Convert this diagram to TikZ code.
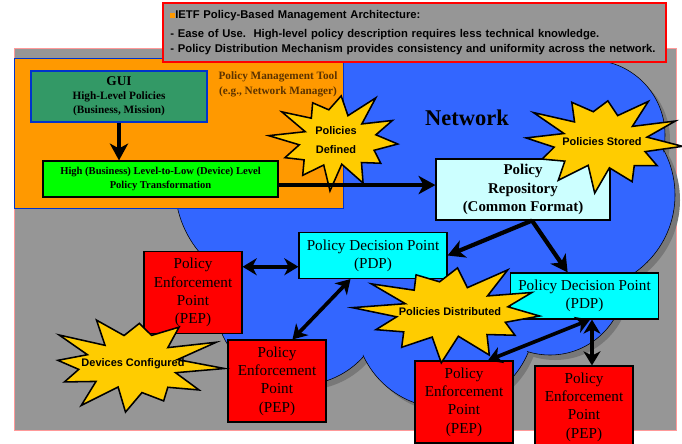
\documentclass[tikz,border=0pt]{standalone}
\usepackage{fontspec}
\setmainfont{Liberation Serif}
\setsansfont{Liberation Sans}
\usepackage{xcolor}
\usetikzlibrary{arrows.meta,calc}

\definecolor{bggray}{HTML}{969696}
\definecolor{shadowgray}{HTML}{787878}
\definecolor{netblue}{HTML}{3366FF}
\definecolor{toolorange}{HTML}{FF9900}
\definecolor{toolbrown}{HTML}{5C3300}
\definecolor{guigreen}{HTML}{339966}
\definecolor{burstyellow}{HTML}{FFCC00}
\definecolor{repocyan}{HTML}{CCFFFF}
\definecolor{pdpcyan}{HTML}{00FFFF}
\definecolor{edgeblue}{HTML}{0033CC}
\definecolor{pinkedge}{HTML}{FF9999}

% explosion with a label: name, centre, x radius, y radius, phase, text
\newcommand{\policyburst}[6]{%
  \draw[burst,shift={#2}] plot[variable=\k,samples at={0,...,23}]
    ({(#3)*(1-0.4*mod(\k,2))*(1+0.12*sin(\k*131+#5))*cos(\k*15+5)},
     {(#4)*(1-0.4*mod(\k,2))*(1+0.12*sin(\k*131+#5))*sin(\k*15+5)}) -- cycle;
  \node[bursttext] (#1) at #2 {#6};}

\begin{document}
\begin{tikzpicture}[x=0.025cm,y=-0.025cm,
  box/.style={draw,line width=0.8pt,inner sep=0pt,align=center,
    font=\fontsize{10.8}{13}\selectfont},
  pdp/.style={box,fill=pdpcyan,minimum width=3.7cm,minimum height=1.15cm},
  pep/.style={box,fill=red,minimum width=2.45cm,minimum height=2.05cm},
  burst/.style={draw,line width=1.1pt,fill=burstyellow,line join=miter},
  bursttext/.style={font=\sffamily\bfseries\fontsize{7.8}{9}\selectfont,
    align=center,inner sep=0pt},
  lobe/.style={draw,line width=0.4pt,fill=netblue},
  flow/.style={line width=3pt,-{Stealth[length=12pt,width=13pt,inset=3.5pt]}},
  link/.style={line width=2.6pt,
    {Stealth[length=10pt,width=12pt,inset=3pt]}-{Stealth[length=10pt,width=12pt,inset=3pt]}}]

  \useasboundingbox (0,0) rectangle (682,443);

  % backdrop
  \draw[pinkedge,fill=bggray,line width=0.6pt] (14,48) rectangle (676,430);

  % network cloud: shadow, outlined lobes, then the lobes filled again
  \foreach \cx/\cy/\r in {430/230/130,280/185/105,300/300/85,445/318/90,
      550/280/75,580/195/95,590/135/75,560/120/70,480/120/100,390/140/95}
    \fill[shadowgray] (\cx+5,\cy+5) circle[radius=\r];
  \foreach \cx/\cy/\r in {430/230/130,280/185/105,300/300/85,445/318/90,
      550/280/75,580/195/95,590/135/75,560/120/70,480/120/100,390/140/95}
    \draw[lobe] (\cx,\cy) circle[radius=\r];
  \foreach \cx/\cy/\r in {430/230/130,280/185/105,300/300/85,445/318/90,
      550/280/75,580/195/95,590/135/75,560/120/70,480/120/100,390/140/95}
    \fill[netblue] (\cx,\cy) circle[radius=\r-1.5];

  % management tool
  \draw[edgeblue,fill=toolorange,line width=0.6pt] (14,58) rectangle (343,208);
  \node[font=\bfseries\fontsize{8}{10.5}\selectfont,text=toolbrown,align=center]
    (tool) at (278,84) {Policy Management Tool\\(e.g., Network Manager)};
  \node[box,draw=edgeblue,fill=guigreen,minimum width=4.4cm,minimum height=1.275cm,
    font=\bfseries\fontsize{8}{10}\selectfont] (gui) at (119,96.5)
    {{\fontsize{9.5}{11}\selectfont GUI}\\High-Level Policies\\(Business, Mission)};
  \node[box,fill=green,minimum width=5.875cm,minimum height=0.9cm,
    font=\bfseries\fontsize{7.5}{10}\selectfont] (trans) at (160.5,179)
    {High (Business) Level-to-Low (Device) Level\\Policy Transformation};

  % summary box
  \node[draw=red,line width=2pt,fill=bggray,minimum width=12.575cm,
    minimum height=1.475cm,inner xsep=0.15cm,text width=12.2cm,align=left,
    font=\sffamily\bfseries\fontsize{8}{10.6}\selectfont] (note) at (414.5,32.5)
    {\textcolor{toolorange}{\rule{3.5pt}{3.5pt}}IETF Policy-Based Management Architecture:\\[3pt]
     - Ease of Use.\ \ High-level policy description requires less technical knowledge.\\
     - Policy Distribution Mechanism provides consistency and uniformity across the network.};

  \node[font=\bfseries\fontsize{16}{18}\selectfont] (net) at (467,118) {Network};

  % repository, decision and enforcement points
  \node[box,fill=repocyan,minimum width=4.35cm,minimum height=1.525cm,
    font=\bfseries\fontsize{10.6}{13}\selectfont] (repo) at (523,189.5)
    {Policy\\Repository\\(Common Format)};
  \node[pdp] (pdp1) at (373,255.5) {Policy Decision Point\\(PDP)};
  \node[pdp] (pdp2) at (584.5,296) {Policy Decision Point\\(PDP)};
  \node[pep] (pep1) at (193,292.5) {Policy\\Enforcement\\Point\\(PEP)};
  \node[pep] (pep2) at (277,381) {Policy\\Enforcement\\Point\\(PEP)};
  \node[pep] (pep3) at (464,402) {Policy\\Enforcement\\Point\\(PEP)};
  \node[pep] (pep4) at (584,407) {Policy\\Enforcement\\Point\\(PEP)};

  % explosions
  \policyburst{defined}{(336,140)}{62}{46}{0}{Policies\\[5pt]Defined}
  \policyburst{stored}{(602,142)}{75}{46}{40}{Policies Stored}
  \policyburst{distributed}{(450,312)}{90}{46}{0}{Policies Distributed}
  \policyburst{configured}{(133,364)}{82}{46}{90}{Devices Configured}

  % connectors
  \draw[flow] (gui.south) -- (gui.south |- trans.north);
  \coordinate (tr) at ([yshift=-4.3pt]trans.east);
  \draw[flow] (tr) -- (tr -| repo.west);
  \coordinate (rb) at ([xshift=6.4pt]repo.south);
  \draw[flow] (rb) -- (pdp1.east);
  \draw[flow] (rb) -- ([xshift=-12pt]pdp2.north);
  \coordinate (l1) at ([yshift=-8pt]pdp1.west);
  \draw[link] (l1 -| pep1.east) -- (l1);
  \draw[link] ([xshift=-16pt]pdp1.south) -- ([xshift=11pt]pep2.north);
  \draw[link] ([xshift=4pt]pdp2.south) -- ([xshift=17pt]pep3.north);
  \coordinate (l4) at ([xshift=5.3pt]pdp2.south);
  \draw[link] (l4) -- (l4 |- pep4.north);
\end{tikzpicture}
\end{document}
